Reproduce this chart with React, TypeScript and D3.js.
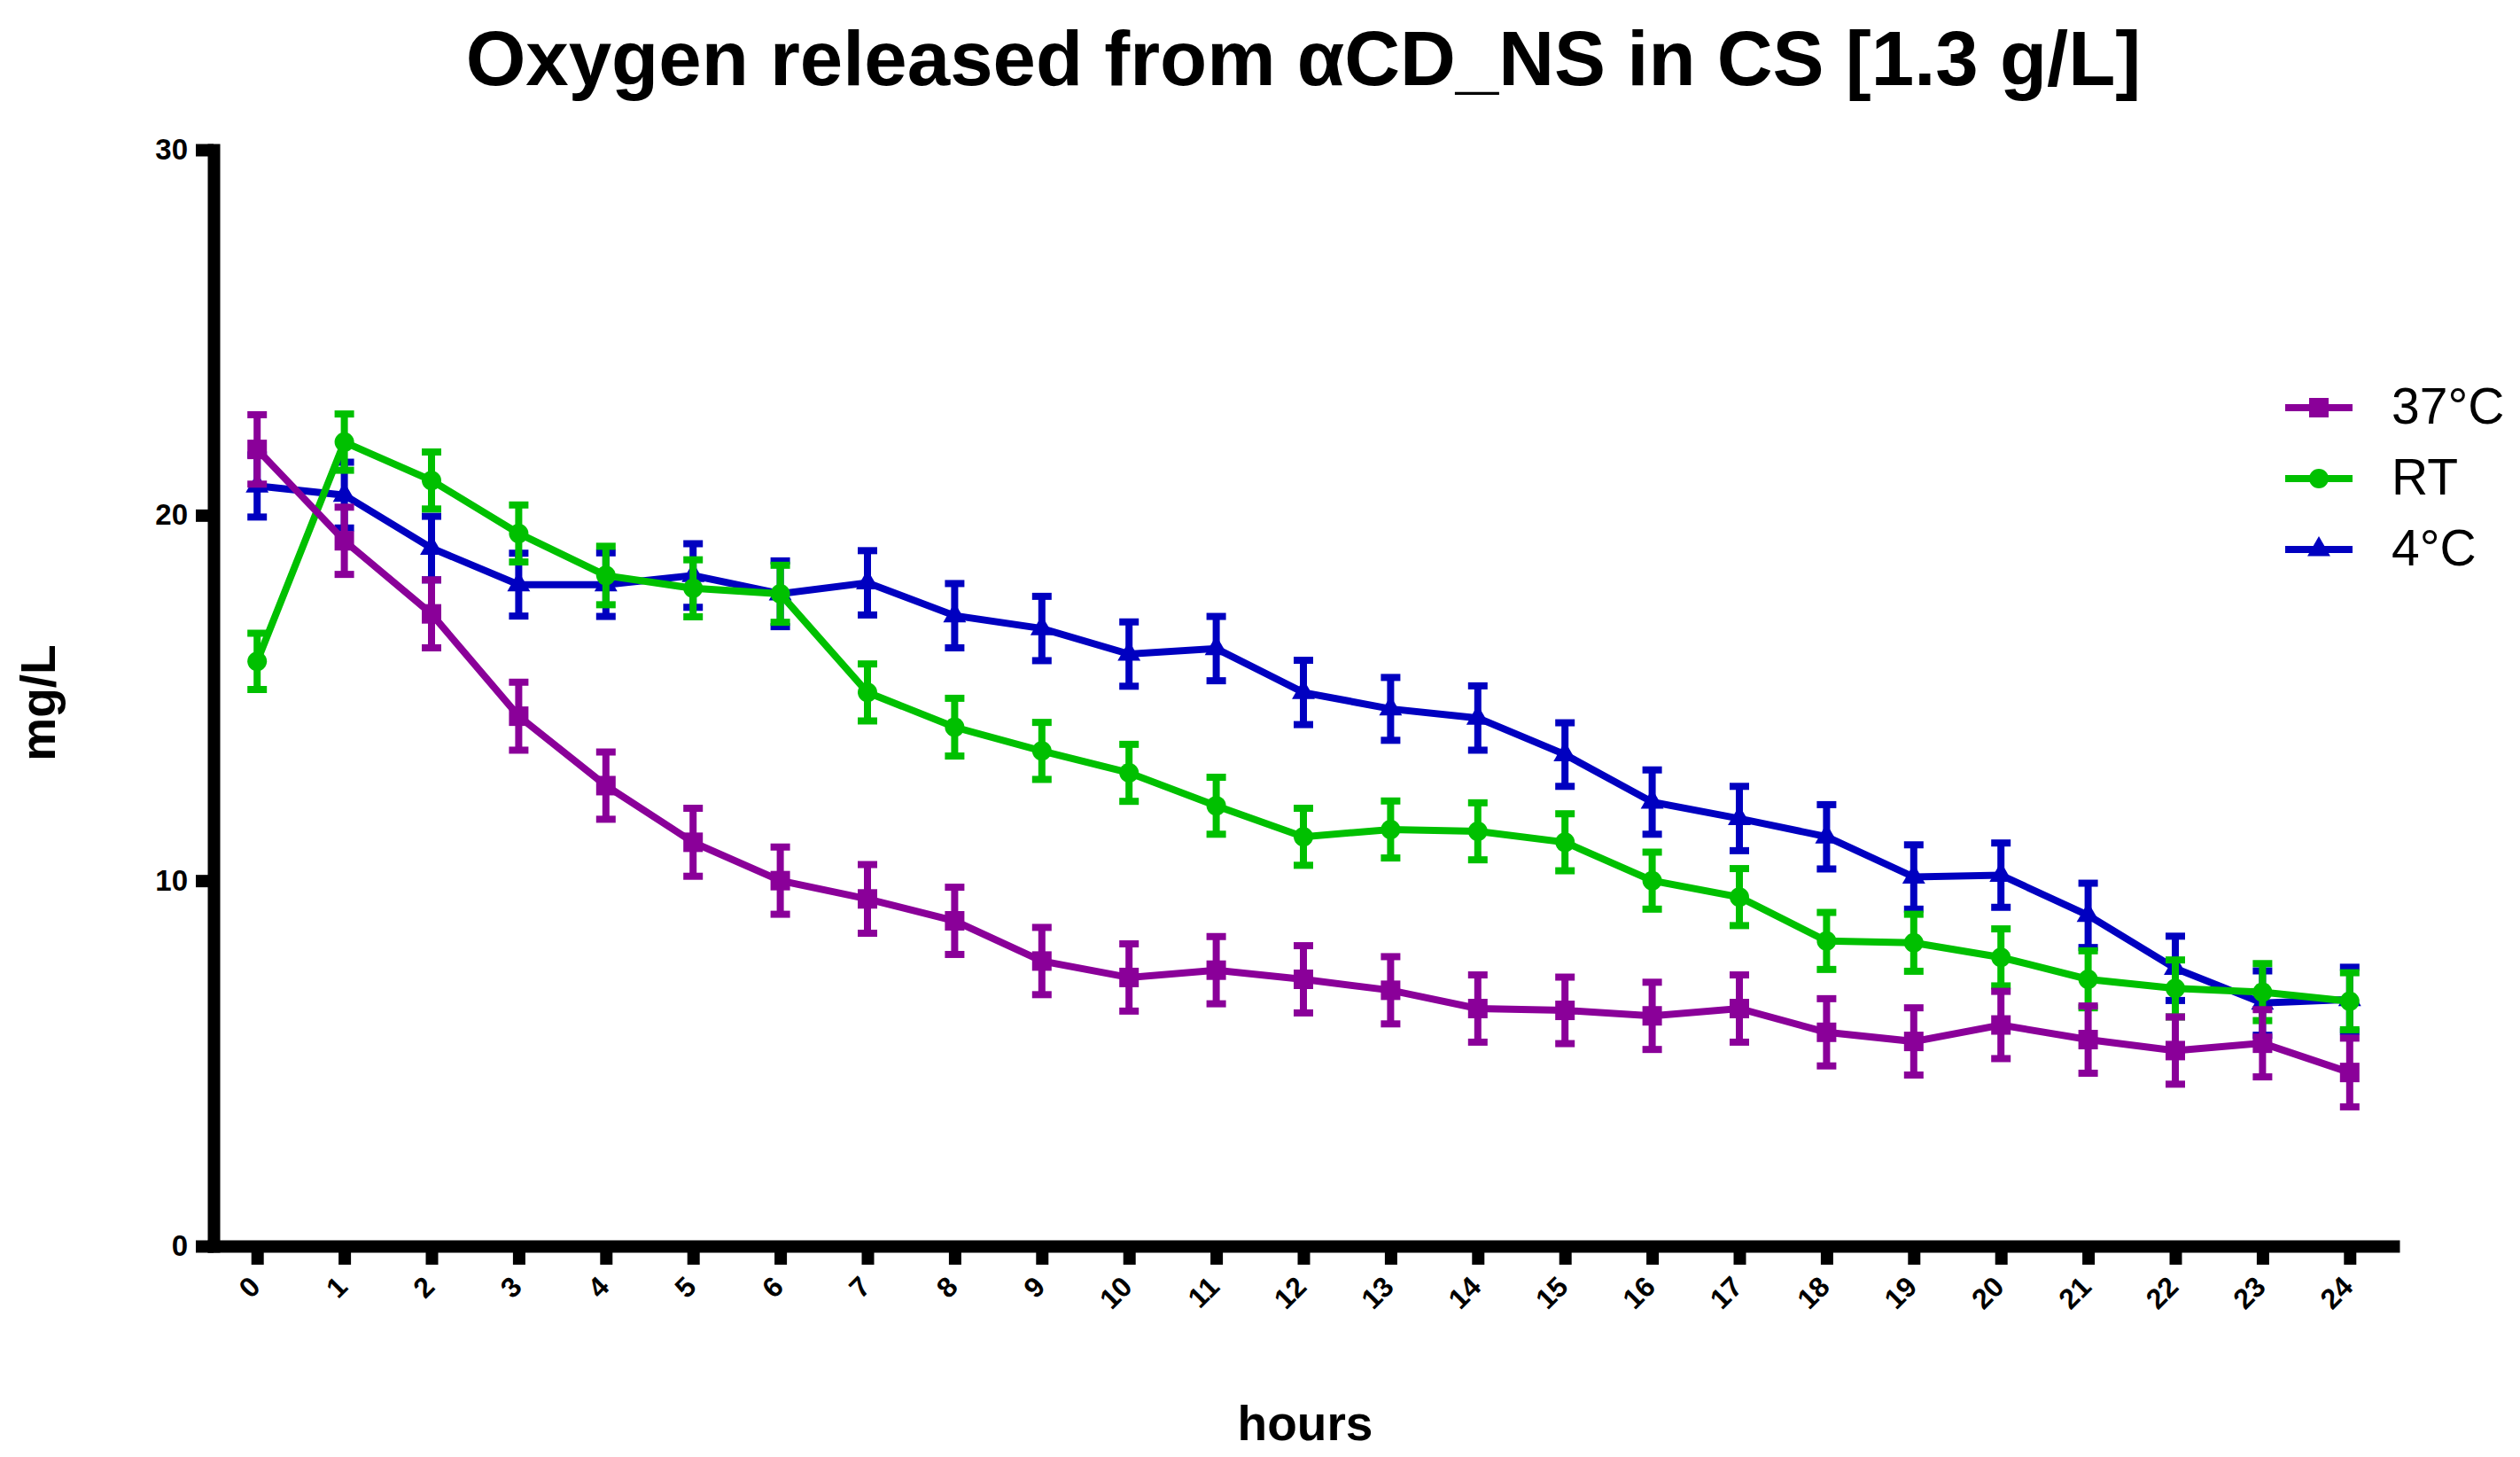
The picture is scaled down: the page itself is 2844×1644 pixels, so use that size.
import * as d3 from "d3";
import { useEffect, useRef } from "react";

// hours on the x axis
const hours = [0, 1, 2, 3, 4, 5, 6, 7, 8, 9, 10, 11, 12, 13, 14, 15, 16, 17, 18, 19, 20, 21, 22, 23, 24];

// mean O2 (mg/L) per series
const mean37 = [21.8, 19.3, 17.3, 14.5, 12.6, 11.05, 10.0, 9.5, 8.9, 7.8, 7.35, 7.55, 7.3, 7.0, 6.5, 6.45, 6.3, 6.5, 5.85, 5.6, 6.05, 5.65, 5.35, 5.55, 4.75];
const meanRT = [16.0, 22.0, 20.95, 19.5, 18.35, 18.0, 17.85, 15.15, 14.2, 13.55, 12.95, 12.05, 11.2, 11.4, 11.35, 11.05, 10.0, 9.55, 8.35, 8.3, 7.9, 7.3, 7.05, 6.95, 6.7];
const mean4 = [20.8, 20.55, 19.1, 18.1, 18.1, 18.35, 17.85, 18.15, 17.25, 16.9, 16.2, 16.35, 15.15, 14.7, 14.45, 13.45, 12.15, 11.7, 11.2, 10.1, 10.15, 9.05, 7.6, 6.65, 6.75];

// error bars (SEM)
const sem37 = [0.95, 0.92, 0.93, 0.93, 0.92, 0.93, 0.92, 0.94, 0.92, 0.92, 0.92, 0.92, 0.92, 0.92, 0.92, 0.91, 0.92, 0.92, 0.92, 0.92, 0.92, 0.92, 0.92, 0.92, 0.94];
const semRT = [0.77, 0.77, 0.78, 0.78, 0.8, 0.78, 0.78, 0.78, 0.79, 0.78, 0.78, 0.78, 0.78, 0.78, 0.78, 0.78, 0.78, 0.78, 0.78, 0.78, 0.78, 0.78, 0.78, 0.78, 0.78];
const sem4 = [0.85, 0.9, 0.87, 0.86, 0.87, 0.87, 0.9, 0.88, 0.88, 0.88, 0.88, 0.88, 0.88, 0.86, 0.88, 0.87, 0.88, 0.88, 0.88, 0.88, 0.88, 0.88, 0.88, 0.88, 0.88];

const yTicks = [0, 10, 20, 30];
const seriesNames = ["37°C", "RT", "4°C"];

const W = 2844;
const H = 1644;
const FONT = "'Liberation Sans', Arial, Helvetica, sans-serif";

export default function App() {
  const svgRef = useRef<SVGSVGElement>(null);

  useEffect(() => {
    const svg = d3.select(svgRef.current);
    svg.selectAll("*").remove();

    const x = d3.scaleLinear().domain([-0.5, 24.5]).range([241, 2701]);
    const y = d3.scaleLinear().domain([0, 30]).range([1406, 169]);

    const series = [
      { name: seriesNames[0], mean: mean37, sem: sem37, color: "#8a0099", sym: d3.symbolSquare, size: 484 },
      { name: seriesNames[1], mean: meanRT, sem: semRT, color: "#00c000", sym: d3.symbolCircle, size: 380 },
      { name: seriesNames[2], mean: mean4, sem: sem4, color: "#0000c0", sym: d3.symbolTriangle, size: 290 },
    ];

    // title
    svg.append("text")
      .attr("x", 1471)
      .attr("y", 96)
      .attr("text-anchor", "middle")
      .attr("font-family", FONT)
      .attr("font-weight", "bold")
      .attr("font-size", 87)
      .text("Oxygen released from αCD_NS in CS [1.3 g/L]");

    // data, bottom layer first (4°C under, 37°C on top)
    const line = d3.line<number>()
      .x((_, i) => x(hours[i]))
      .y((d) => y(d));

    [...series].reverse().forEach((s) => {
      const g = svg.append("g");
      g.append("path")
        .attr("d", line(s.mean))
        .attr("fill", "none")
        .attr("stroke", s.color)
        .attr("stroke-width", 8);

      s.mean.forEach((m, i) => {
        const cx = x(hours[i]);
        const top = y(m + s.sem[i]);
        const bot = y(m - s.sem[i]);
        g.append("line")
          .attr("x1", cx).attr("x2", cx)
          .attr("y1", top).attr("y2", bot)
          .attr("stroke", s.color).attr("stroke-width", 8);
        [top, bot].forEach((yy) => {
          g.append("line")
            .attr("x1", cx - 11).attr("x2", cx + 11)
            .attr("y1", yy).attr("y2", yy)
            .attr("stroke", s.color).attr("stroke-width", 8);
        });
        g.append("path")
          .attr("d", d3.symbol(s.sym, s.size)())
          .attr("transform", `translate(${cx},${y(m)})`)
          .attr("fill", s.color);
      });
    });

    // axes
    const yAxis = svg.append("g")
      .attr("transform", "translate(241,0)")
      .call(d3.axisLeft(y).tickValues(yTicks).tickSize(20).tickSizeOuter(0).tickPadding(9));
    yAxis.select(".domain").attr("stroke-width", 14).attr("stroke-linecap", "square");
    yAxis.selectAll(".tick line").attr("stroke-width", 14);
    yAxis.selectAll("text")
      .attr("font-family", FONT)
      .attr("font-weight", "bold")
      .attr("font-size", 33);

    const xAxis = svg.append("g")
      .attr("transform", "translate(0,1406)")
      .call(d3.axisBottom(x).tickValues(hours).tickFormat(d3.format("d")).tickSize(21).tickSizeOuter(0));
    xAxis.select(".domain").attr("stroke-width", 14).attr("stroke-linecap", "square");
    xAxis.selectAll(".tick line").attr("stroke-width", 14);
    xAxis.selectAll(".tick text")
      .attr("font-family", FONT)
      .attr("font-weight", "bold")
      .attr("font-size", 32)
      .attr("x", 0)
      .attr("y", 0)
      .attr("dy", "0.35em")
      .attr("text-anchor", "end")
      .attr("transform", "translate(-3,40) rotate(-45)");

    // axis titles
    svg.append("text")
      .attr("transform", "translate(62,793) rotate(-90)")
      .attr("text-anchor", "middle")
      .attr("font-family", FONT)
      .attr("font-weight", "bold")
      .attr("font-size", 55)
      .text("mg/L");

    svg.append("text")
      .attr("x", 1473)
      .attr("y", 1625)
      .attr("text-anchor", "middle")
      .attr("font-family", FONT)
      .attr("font-weight", "bold")
      .attr("font-size", 55)
      .text("hours");

    // legend
    const legend = svg.append("g");
    series.forEach((s, i) => {
      const cy = 460 + i * 80;
      legend.append("line")
        .attr("x1", 2579).attr("x2", 2655)
        .attr("y1", cy).attr("y2", cy)
        .attr("stroke", s.color).attr("stroke-width", 8);
      legend.append("path")
        .attr("d", d3.symbol(s.sym, s.size)())
        .attr("transform", `translate(2617,${cy})`)
        .attr("fill", s.color);
      legend.append("text")
        .attr("x", 2699)
        .attr("y", cy + 18)
        .attr("font-family", FONT)
        .attr("font-size", 57)
        .text(s.name);
    });
  }, []);

  return (
    <svg
      ref={svgRef}
      width={W}
      height={H}
      viewBox={`0 0 ${W} ${H}`}
      style={{ position: "absolute", left: 0, top: 0, background: "#fff", display: "block" }}
    />
  );
}
